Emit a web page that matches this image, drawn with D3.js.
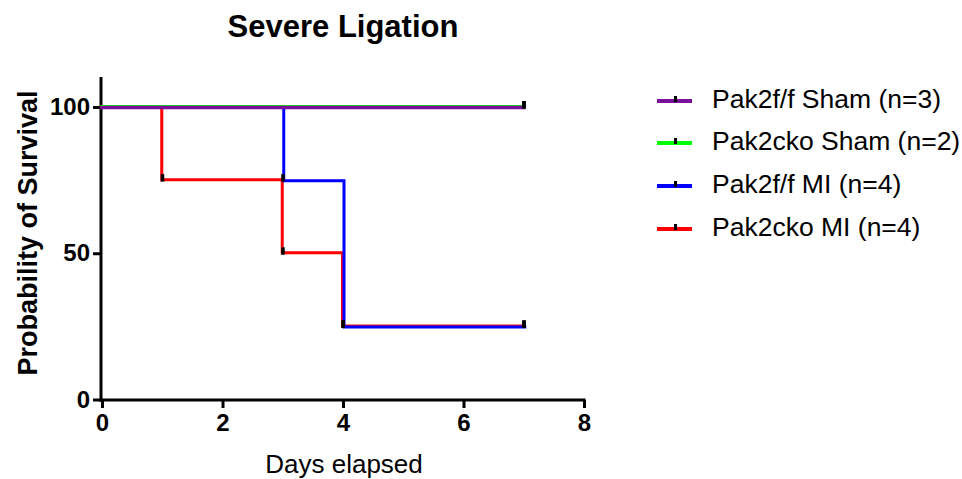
<!DOCTYPE html>
<html>
<head>
<meta charset="utf-8">
<script src="https://cdn.jsdelivr.net/npm/d3@7"></script>
<style>
  body { margin: 0; background: #fff; }
  svg { display: block; font-family: "Liberation Sans", Arial, sans-serif; }
</style>
</head>
<body>
<svg id="chart" width="962" height="479"></svg>
<script>
// Kaplan-Meier step data (days, % surviving)
const seriesNames = ["Pak2f/f Sham (n=3)", "Pak2cko Sham (n=2)", "Pak2f/f MI (n=4)", "Pak2cko MI (n=4)"];
const seriesColors = ["#7a0f9c", "#00ff00", "#0000ff", "#ff0000"];
const shamFloxTimes = [0, 7];
const shamFloxSurvival = [100, 100];
const shamCkoTimes = [0, 7];
const shamCkoSurvival = [100, 100];
const miFloxTimes = [0, 3, 4, 7];
const miFloxSurvival = [100, 75, 25, 25];
const miCkoTimes = [0, 1, 3, 4, 7];
const miCkoSurvival = [100, 75, 50, 25, 25];
const xTicks = [0, 2, 4, 6, 8];
const yTicks = [0, 50, 100];

const series = [
  { name: seriesNames[0], color: seriesColors[0], t: shamFloxTimes, s: shamFloxSurvival, dx: 0, dy: 0.5, w: 3.5 },
  { name: seriesNames[1], color: seriesColors[1], t: shamCkoTimes, s: shamCkoSurvival, dx: 0, dy: -0.5, w: 3 },
  { name: seriesNames[2], color: seriesColors[2], t: miFloxTimes, s: miFloxSurvival, dx: 1, dy: 0.5, w: 3 },
  { name: seriesNames[3], color: seriesColors[3], t: miCkoTimes, s: miCkoSurvival, dx: -0.5, dy: -0.5, w: 3 }
];

const svg = d3.select("#chart");
const x = d3.scaleLinear().domain([0, 8]).range([102, 584]);
const y = d3.scaleLinear().domain([0, 100]).range([399.5, 107]);

// Title
svg.append("text").attr("x", 343).attr("y", 37).attr("text-anchor", "middle")
  .attr("font-size", 31).attr("font-weight", "bold").text("Severe Ligation");

// Axes
const xAxis = svg.append("g").attr("transform", "translate(0,400)")
  .call(d3.axisBottom(x).tickValues(xTicks).tickSize(8).tickPadding(6).tickFormat(d3.format("d")));
const yAxis = svg.append("g").attr("transform", "translate(101,0)")
  .call(d3.axisLeft(y).tickValues(yTicks).tickSize(8).tickPadding(3).tickFormat(d3.format("d")));
[xAxis, yAxis].forEach(g => {
  g.select(".domain").remove();
  g.selectAll(".tick line").attr("stroke", "#000").attr("stroke-width", 3);
  g.selectAll(".tick text").attr("font-size", 24).attr("font-weight", "bold").attr("fill", "#000")
    .attr("font-family", "Liberation Sans, Arial, sans-serif");
});
// axis lines
svg.append("line").attr("x1", 101).attr("x2", 101).attr("y1", 77).attr("y2", 401.5)
  .attr("stroke", "#000").attr("stroke-width", 3);
svg.append("line").attr("x1", 99.5).attr("x2", 585.5).attr("y1", 400).attr("y2", 400)
  .attr("stroke", "#000").attr("stroke-width", 3);

// Axis titles
svg.append("text").attr("x", 344).attr("y", 473).attr("text-anchor", "middle")
  .attr("font-size", 26).text("Days elapsed");
svg.append("text").attr("transform", "translate(37,233) rotate(-90)").attr("text-anchor", "middle")
  .attr("font-size", 27).attr("font-weight", "bold").text("Probability of Survival");

// Survival curves (drawn so the sham lines sit on top)
const drawOrder = [3, 2, 1, 0];
const plot = svg.append("g");
drawOrder.forEach(i => {
  const d = series[i];
  const pts = d.t.map((t, k) => [t, d.s[k]]);
  const line = d3.line().curve(d3.curveStepAfter)
    .x(p => x(p[0]) + d.dx).y(p => y(p[1]) + d.dy);
  plot.append("path").datum(pts).attr("d", line).attr("fill", "none")
    .attr("stroke", d.color).attr("stroke-width", d.w).attr("stroke-linecap", "square");
});

// Event / censor marks
const marks = [];
series.forEach((d, i) => {
  d.t.forEach((t, k) => { if (k > 0) marks.push({ t, s: d.s[k] }); });
});
plot.selectAll("rect.mark").data(marks).join("rect").attr("class", "mark")
  .attr("x", m => x(m.t) - 1.5).attr("y", m => y(m.s) - 6).attr("width", 3.5).attr("height", 7.5)
  .attr("fill", "#000");

// Legend
const legend = svg.append("g");
const legendY = [101, 143, 186, 229];
series.forEach((d, i) => {
  const g = legend.append("g").attr("transform", `translate(0,${legendY[i]})`);
  g.append("line").attr("x1", 657).attr("x2", 692).attr("y1", 0).attr("y2", 0)
    .attr("stroke", d.color).attr("stroke-width", 4);
  g.append("rect").attr("x", 674).attr("y", -5).attr("width", 3).attr("height", 6).attr("fill", "#000");
  g.append("text").attr("x", 712).attr("y", 7).attr("font-size", 26.5).text(d.name);
});
</script>
</body>
</html>
